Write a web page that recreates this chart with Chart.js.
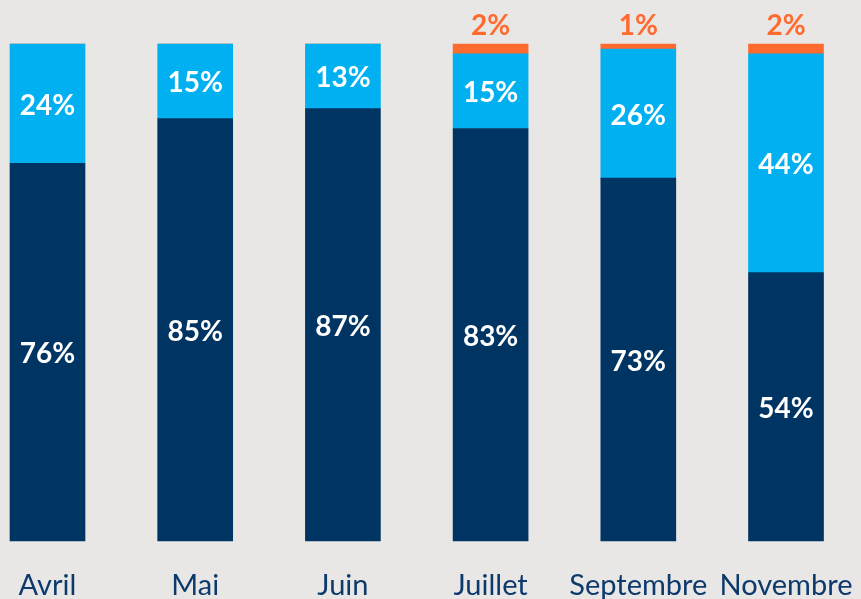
<!DOCTYPE html>
<html>
<head>
<meta charset="utf-8">
<script src="https://cdn.jsdelivr.net/npm/chart.js@4"></script>
<style>
  html, body { margin: 0; padding: 0; background: #e9e7e6; }
  canvas { display: block; }
</style>
</head>
<body>
<canvas id="chart" width="861" height="599"></canvas>
<script>
const months = ['Avril', 'Mai', 'Juin', 'Juillet', 'Septembre', 'Novembre'];
const dark_values = [76, 85, 87, 83, 73, 54];
const blue_values = [24, 15, 13, 15, 26, 44];
const orange_values = [0, 0, 0, 2, 1, 2];

const navy = '#003462';
const blue = '#00b0f0';
const orange = '#ff6b2f';
const label_color = '#0d3a6c';

// draws the percent labels on the segments (and above the orange caps),
// plus the month names under the bars
const valueLabels = {
    id: 'valueLabels',
    afterDatasetsDraw(chart){
        const ctx = chart.ctx;
        ctx.save();
        ctx.font = 'bold 28px Lato';
        ctx.textAlign = 'center';
        ctx.textBaseline = 'middle';
        chart.data.datasets.forEach((ds, i) => {
            const meta = chart.getDatasetMeta(i);
            meta.data.forEach((bar, j) => {
                const v = ds.data[j];
                if(!v) return;
                if(i < 2){
                    ctx.fillStyle = '#ffffff';
                    ctx.fillText(v + '%', bar.x, (bar.y + bar.base) / 2 + 2);
                } else {
                    ctx.fillStyle = orange;
                    ctx.fillText(v + '%', bar.x, bar.y - 18);
                }
            });
        });
        const xScale = chart.scales.x;
        ctx.font = '29px Lato';
        ctx.fillStyle = label_color;
        chart.data.labels.forEach((lab, i) => {
            ctx.fillText(lab, xScale.getPixelForTick(i), chart.chartArea.bottom + 45);
        });
        ctx.restore();
    }
};

new Chart(document.getElementById('chart').getContext('2d'), {
    type: 'bar',
    data: {
        labels: months,
        datasets: [
            { data: dark_values, backgroundColor: navy, barThickness: 75, clip: false },
            { data: blue_values, backgroundColor: blue, barThickness: 75, clip: false },
            { data: orange_values, backgroundColor: orange, barThickness: 75, clip: false }
        ]
    },
    options: {
        responsive: false,
        animation: false,
        layout: {
            padding: { left: 47.5, right: 75, top: 44, bottom: 58 }
        },
        plugins: {
            legend: { display: false },
            tooltip: { enabled: false }
        },
        scales: {
            x: {
                stacked: true,
                offset: false,
                display: false
            },
            y: {
                stacked: true,
                min: 0,
                max: 100,
                display: false
            }
        }
    },
    plugins: [valueLabels]
});
</script>
</body>
</html>
